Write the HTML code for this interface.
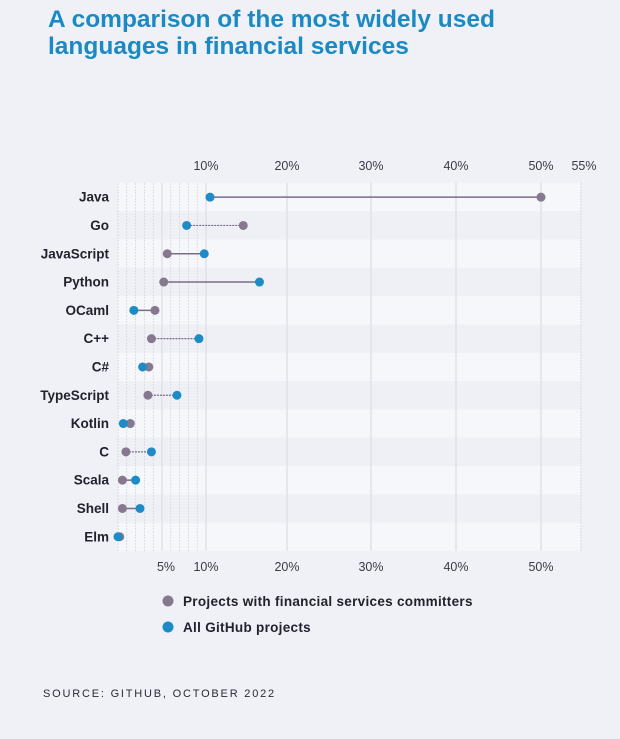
<!DOCTYPE html>
<html><head><meta charset="utf-8"><style>
body{margin:0;background:#f0f1f7;font-family:"Liberation Sans",sans-serif;}
#wrap{position:relative;width:620px;height:739px;overflow:hidden;background:#f0f1f7;}
h1{position:absolute;left:48px;top:6px;margin:0;font-size:24.5px;line-height:27px;font-weight:bold;color:#1b8ac4;letter-spacing:0px;}
.src{position:absolute;left:43px;top:688px;font-size:11px;letter-spacing:1.8px;color:#2a2a35;}
</style></head><body>
<div id="wrap">
<h1>A comparison of the most widely used<br>languages in financial services</h1>
<svg id="chart" width="620" height="680" style="position:absolute;left:0;top:0"></svg>
<div class="src">SOURCE: GITHUB, OCTOBER 2022</div>
</div>
<script>
const languages=["Java","Go","JavaScript","Python","OCaml","C++","C#","TypeScript","Kotlin","C","Scala","Shell","Elm"];
const financial=[50,14.6,5.6,5.2,4.2,3.8,3.5,3.4,1.4,0.9,0.5,0.5,0.2];
const github=[10.5,7.8,9.8,16.6,1.8,9.2,2.8,6.7,0.6,3.8,2.0,2.5,0];
const dotted=[false,true,false,false,false,true,false,true,false,true,false,false,false];
const topTicks=[10,20,30,40,50,55];
const bottomTicks=[5,10,20,30,40,50];
const minorTicks=[1,2,3,4,5,6,7,8,9];
const svg=document.getElementById('chart');
const NS='http://www.w3.org/2000/svg';
const dom=[0,10,20,30,40,50,55], rng=[118,206,287,371,456,541,581];
function x(v){for(let i=1;i<dom.length;i++){if(v<=dom[i]){const t=(v-dom[i-1])/(dom[i]-dom[i-1]);return rng[i-1]+t*(rng[i]-rng[i-1]);}}return rng[rng.length-1];}
const rowTop=183,rowH=28.3;
function y(i){return rowTop+rowH*(i+0.5);}
function mk(tag,attrs){const e=document.createElementNS(NS,tag);for(const k in attrs)e.setAttribute(k,attrs[k]);svg.appendChild(e);return e;}
const bottom=rowTop+rowH*languages.length;
languages.forEach((l,i)=>{const r=mk('rect',{x:117,y:rowTop+rowH*i,width:464,height:rowH,fill:i%2?'#eff0f6':'#f6f7fb'});

});
minorTicks.forEach(v=>{const g=mk('line',{x1:x(v),x2:x(v),y1:rowTop,y2:bottom,stroke:'#d8d9e0','stroke-width':v==5?1:0.8,'stroke-dasharray':v==5?'':'2,1'});

});
[0,10,20,30,40,50,55].forEach(v=>{const g=mk('line',{x1:x(v),x2:x(v),y1:rowTop,y2:bottom,stroke:'#dcdde4','stroke-width':1.2,'stroke-dasharray':(v==0||v==55)?'2,1':''});

});
topTicks.forEach(v=>{const t=mk('text',{x:v==55?x(v)+3:x(v),y:170,'text-anchor':'middle','font-size':12.5,fill:'#3a3a48'});t.textContent=v+'%';

});
bottomTicks.forEach(v=>{const t=mk('text',{x:x(v)+(v==5?4:0),y:571,'text-anchor':'middle','font-size':12.5,fill:'#3a3a48'});t.textContent=v+'%';

});
languages.forEach((l,i)=>{
const t=mk('text',{x:109,y:y(i)+4.5,'text-anchor':'end','font-size':13.5,'font-weight':'bold',fill:'#22222e'});t.textContent=l;


const ln=mk('line',{x1:x(financial[i]),x2:x(github[i]),y1:y(i),y2:y(i),stroke:'#7a6d85','stroke-width':dotted[i]?1.2:1.5,'stroke-dasharray':dotted[i]?'2,1':''});


const a=mk('circle',{cx:x(financial[i]),cy:y(i),r:4.5,fill:'#85788f'});


const b=mk('circle',{cx:x(github[i]),cy:y(i),r:4.5,fill:'#1d8bc5'});


});
const l1=mk('circle',{cx:168,cy:601,r:5.5,fill:'#85788f'});


const t1=mk('text',{x:183,y:606,'font-size':13.5,'font-weight':'bold',fill:'#22222e','letter-spacing':0.3});t1.textContent='Projects with financial services committers';


const l2=mk('circle',{cx:168,cy:627,r:5.5,fill:'#1d8bc5'});


const t2=mk('text',{x:183,y:632,'font-size':13.5,'font-weight':'bold',fill:'#22222e','letter-spacing':0.3});t2.textContent='All GitHub projects';


</script>
</body></html>
